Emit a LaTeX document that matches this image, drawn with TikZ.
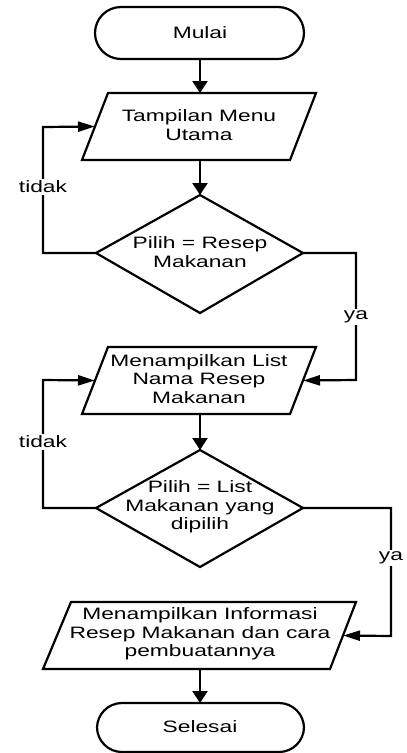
\documentclass[tikz,border=0pt]{standalone}
\usepackage{fontspec}
\setmainfont{Liberation Sans}[FakeStretch=1.38]
\usetikzlibrary{arrows.meta,calc}
\tikzset{
  shapeline/.style={line width=2.2pt, line join=miter},
  vconn/.style={line width=2.2pt, -{Triangle[length=12pt,width=15pt]}},
  hconn/.style={line width=2.2pt, -{Triangle[length=17pt,width=10pt]}},
  txt/.style={align=center, inner sep=0pt, font=\fontsize{16.5}{18.5}\selectfont},
  lbl/.style={fill=white, inner sep=1.5pt, font=\fontsize{16.5}{18.5}\selectfont}
}
\begin{document}
\begin{tikzpicture}[x=1pt,y=-1pt]
\useasboundingbox (0,0) rectangle (407,753);
% Mulai
\draw[shapeline, rounded corners=26pt] (95,7) rectangle (304,59);
\node[txt] (mulai) at (200,33) {Mulai};
\coordinate (mulaiB) at (200,59);
% Parallelogram 1
\coordinate (p1tl) at (108,93); \coordinate (p1tr) at (316,93);
\coordinate (p1br) at (290,160); \coordinate (p1bl) at (82,160);
\draw[shapeline] (p1tl) -- (p1tr) -- (p1br) -- (p1bl) -- cycle;
\node[txt] (menu) at (199,125) {Tampilan Menu\\Utama};
\coordinate (p1T) at (200,93); \coordinate (p1B) at (200,160);
\coordinate (p1L) at ($(p1tl)!0.5!(p1bl)$);
% Diamond 1
\coordinate (d1T) at (200,195); \coordinate (d1R) at (303,253);
\coordinate (d1B) at (200,313); \coordinate (d1L) at (96,253);
\draw[shapeline] (d1T) -- (d1R) -- (d1B) -- (d1L) -- cycle;
\node[txt] (pilih1) at (200,252) {Pilih = Resep\\Makanan};
% Parallelogram 2
\coordinate (p2tl) at (108,347); \coordinate (p2tr) at (316,347);
\coordinate (p2br) at (290,414); \coordinate (p2bl) at (82,414);
\draw[shapeline] (p2tl) -- (p2tr) -- (p2br) -- (p2bl) -- cycle;
\node[txt] (list) at (199,379) {Menampilkan List\\Nama Resep\\Makanan};
\coordinate (p2B) at (200,414);
\coordinate (p2L) at ($(p2tl)!0.5!(p2bl)$);
\coordinate (p2R) at ($(p2tr)!0.5!(p2br)$);
% Diamond 2
\coordinate (d2T) at (200,450); \coordinate (d2R) at (303,508);
\coordinate (d2B) at (200,567); \coordinate (d2L) at (96,508);
\draw[shapeline] (d2T) -- (d2R) -- (d2B) -- (d2L) -- cycle;
\node[txt] (pilih2) at (200,507) {Pilih = List\\Makanan yang\\dipilih};
% Parallelogram 3
\coordinate (p3tl) at (71,602); \coordinate (p3tr) at (356,602);
\coordinate (p3br) at (330,669); \coordinate (p3bl) at (43,669);
\draw[shapeline] (p3tl) -- (p3tr) -- (p3br) -- (p3bl) -- cycle;
\node[txt] (info) at (200,634) {Menampilkan Informasi\\Resep Makanan dan cara\\pembuatannya};
\coordinate (p3B) at (200,669);
\coordinate (p3R) at ($(p3tr)!0.5!(p3br)$);
% Selesai
\draw[shapeline, rounded corners=25pt] (97,703) rectangle (304,752);
\node[txt] (selesai) at (200,727) {Selesai};
\coordinate (selT) at (200,703);
% Connectors
\draw[vconn] (mulaiB) -- (p1T);
\draw[vconn] (p1B) -- (d1T);
\draw[hconn] (d1L) -- (43,253) -- (43,127) -- (p1L);
\node[lbl] (tidak1) at (43,187) {tidak};
\draw[hconn] (d1R) -- (356,253) -- (356,380) -- (p2R);
\node[lbl] (ya1) at (356,317) {ya};
\draw[vconn] (p2B) -- (d2T);
\draw[hconn] (d2L) -- (43,508) -- (43,380) -- (p2L);
\node[lbl] (tidak2) at (43,442) {tidak};
\draw[hconn] (d2R) -- (391,508) -- (391,636) -- (p3R);
\node[lbl] (ya2) at (391,558) {ya};
\draw[vconn] (p3B) -- (selT);
\end{tikzpicture}
\end{document}
